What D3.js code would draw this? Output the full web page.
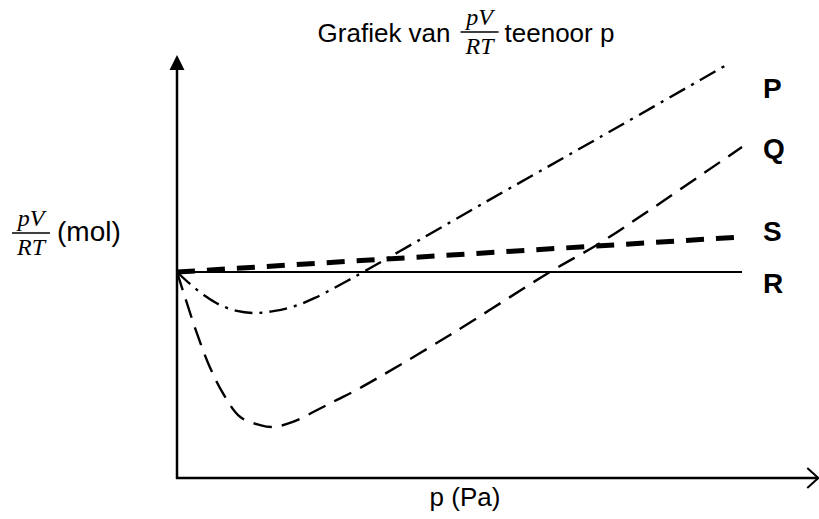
<!DOCTYPE html>
<html>
<head>
<meta charset="utf-8">
<script src="https://cdn.jsdelivr.net/npm/d3@7"></script>
<style>
  body { margin: 0; background: #fff; }
  svg { display: block; }
  .lbl { font-family: "Liberation Sans", Arial, sans-serif; fill: #000; }
  .frac { font-family: "Liberation Serif", "DejaVu Serif", serif; font-style: italic; fill: #000; }
</style>
</head>
<body>
<div class="chart"></div>
<script>
// curves as [p, pV/RT] pairs, p in arbitrary units 0..100
const curveP = [[0, 1.0], [2.3, 0.942], [5.0, 0.883], [7.6, 0.84], [10.6, 0.811], [13.8, 0.801],
    [17.3, 0.811], [20.9, 0.835], [24.4, 0.874], [28.8, 0.937], [33.3, 1.005], [39.5, 1.102],
    [54.0, 1.33], [74.9, 1.655], [97.9, 2.015]];
const curveQ = [[0, 1.0], [1.4, 0.879], [3.5, 0.704], [5.8, 0.539], [8.1, 0.413], [11.2, 0.296],
    [14.7, 0.257], [17.0, 0.248], [20.5, 0.272], [24.8, 0.33], [28.3, 0.379], [32.4, 0.437],
    [48.3, 0.694], [66.0, 1.0], [74.3, 1.131], [83.7, 1.301], [100, 1.607]];
const curveS = [[0, 1.0], [100, 1.17]];
const curveR = [[0, 1.0], [100, 1.0]];
const seriesNames = ["P", "Q", "S", "R"];

const titleLeft = "Grafiek van";
const titleRight = "teenoor p";
const xLabel = "p (Pa)";
const yUnit = "(mol)";

const width = 819, height = 519;

const x = d3.scaleLinear().domain([0, 100]).range([177, 742]);
const y = d3.scaleLinear().domain([0, 1]).range([478, 272]);
const xMax = 113.5, yMax = 2.053;

const svg = d3.select(".chart").append("svg")
    .attr("width", width)
    .attr("height", height);

svg.append("rect").attr("width", width).attr("height", height).attr("fill", "#fff");

const defs = svg.append("defs");
defs.append("marker")
    .attr("id", "arrow-up")
    .attr("viewBox", "0 0 16 16")
    .attr("refX", 0).attr("refY", 8)
    .attr("markerWidth", 16).attr("markerHeight", 16)
    .attr("markerUnits", "userSpaceOnUse")
    .attr("orient", "auto")
    .append("path")
    .attr("d", "M0,0.5 L15,8 L0,15.5 Z")
    .attr("fill", "#000");

// axes
svg.append("line")
    .attr("x1", x(0)).attr("x2", x(0))
    .attr("y1", y(0) + 1).attr("y2", y(yMax) + 15)
    .attr("stroke", "#000").attr("stroke-width", 2.5)
    .attr("marker-end", "url(#arrow-up)");

svg.append("line")
    .attr("x1", x(0) - 1).attr("x2", x(xMax))
    .attr("y1", y(0)).attr("y2", y(0))
    .attr("stroke", "#000").attr("stroke-width", 2.5);

svg.append("path")
    .attr("d", `M${x(xMax) - 11},${y(0) - 10} L${x(xMax)},${y(0)} L${x(xMax) - 11},${y(0) + 10}`)
    .attr("fill", "none").attr("stroke", "#000").attr("stroke-width", 2);

const line = d3.line()
    .x(d => x(d[0]))
    .y(d => y(d[1]))
    .curve(d3.curveCatmullRom.alpha(0.5));

const styles = {
    P: { data: curveP, width: 2.4, dash: "18,7,3,7" },
    Q: { data: curveQ, width: 2.4, dash: "19,10" },
    S: { data: curveS, width: 5, dash: "18,12" },
    R: { data: curveR, width: 2, dash: null }
};
const labelShift = { P: 25, Q: 1, S: -6, R: 11 };

seriesNames.forEach(name => {
    const s = styles[name];
    svg.append("path")
        .datum(s.data)
        .attr("fill", "none")
        .attr("stroke", "#000")
        .attr("stroke-width", s.width)
        .attr("stroke-dasharray", s.dash)
        .attr("d", line);

    const last = s.data[s.data.length - 1];
    svg.append("text")
        .attr("class", "lbl")
        .attr("x", 763)
        .attr("y", y(last[1]) + labelShift[name])
        .attr("dy", "0.35em")
        .style("font-size", "28px")
        .style("font-weight", "bold")
        .text(name);
});

// fraction helper: pV over RT centred at cx, bar at by
function fraction(g, cx, by, size) {
    g.append("text").attr("class", "frac")
        .attr("x", cx).attr("y", by - 7)
        .attr("text-anchor", "middle")
        .style("font-size", size + "px")
        .text("pV");
    g.append("text").attr("class", "frac")
        .attr("x", cx).attr("y", by + size * 0.92)
        .attr("text-anchor", "middle")
        .style("font-size", size + "px")
        .text("RT");
    g.append("line")
        .attr("x1", cx - 19).attr("x2", cx + 19)
        .attr("y1", by).attr("y2", by)
        .attr("stroke", "#000").attr("stroke-width", 1.6);
}

// title
const title = svg.append("g");
const t1 = title.append("text").attr("class", "lbl")
    .attr("x", 0).attr("y", 42)
    .style("font-size", "26px")
    .text(titleLeft);
const w1 = t1.node().getComputedTextLength();
fraction(title, w1 + 29, 32, 24);
const t2 = title.append("text").attr("class", "lbl")
    .attr("x", w1 + 54).attr("y", 42)
    .style("font-size", "26px")
    .text(titleRight);
const w2 = t2.node().getComputedTextLength();
title.attr("transform", `translate(${466 - (w1 + 54 + w2) / 2},0)`);

// y label
const yl = svg.append("g");
fraction(yl, 31, 233, 24);
yl.append("text").attr("class", "lbl")
    .attr("x", 57).attr("y", 241)
    .style("font-size", "28px")
    .text(yUnit);

// x label
svg.append("text").attr("class", "lbl")
    .attr("x", 465).attr("y", 506)
    .attr("text-anchor", "middle")
    .style("font-size", "26px")
    .text(xLabel);
</script>
</body>
</html>
